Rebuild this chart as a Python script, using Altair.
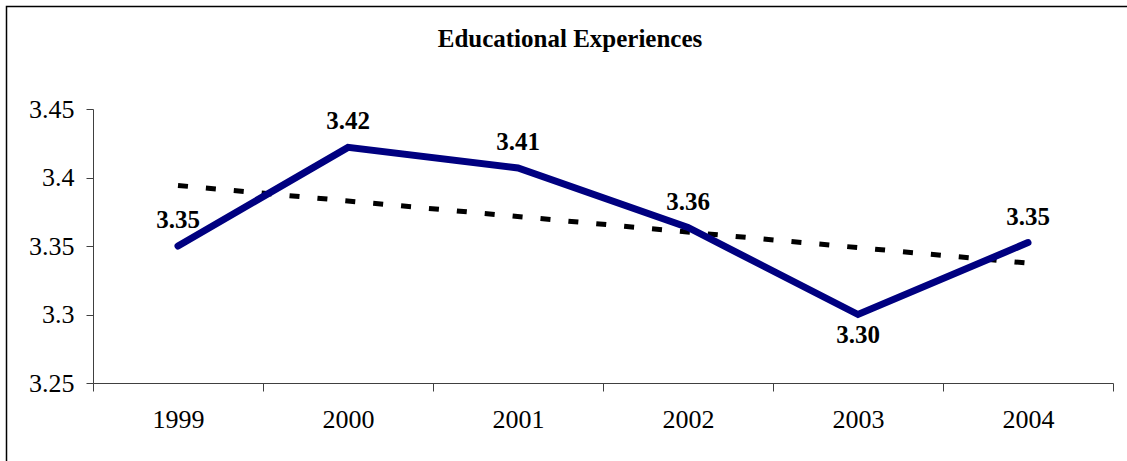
import altair as alt
import pandas as pd

years = [1999, 2000, 2001, 2002, 2003, 2004]
scores = [3.350, 3.422, 3.407, 3.3635, 3.300, 3.3525]
title_text = "Educational Experiences"
y_ticks = [3.25, 3.30, 3.35, 3.40, 3.45]
x_edges = [1998.5, 1999.5, 2000.5, 2001.5, 2002.5, 2003.5, 2004.5]

df = pd.DataFrame({"year": years, "score": scores})

FONT = "Liberation Serif"
W, H = 1020, 274

x = alt.X(
    "year:Q",
    scale=alt.Scale(domain=[1998.5, 2004.5], nice=False, zero=False),
    axis=alt.Axis(
        values=x_edges,
        labelExpr="datum.value < 2004 ? format(datum.value + 0.5, 'd') : ''",
        labelOffset=85,
        labelFlush=False,
        labelOverlap=False,
        labelBound=False,
        tickSize=8,
        labelPadding=15,
        grid=False,
        title=None,
    ),
)
y = alt.Y(
    "score:Q",
    scale=alt.Scale(domain=[3.25, 3.45], nice=False, zero=False),
    axis=alt.Axis(
        values=y_ticks,
        labelExpr="format(datum.value, '.2~f')",
        tickSize=7,
        labelPadding=12,
        grid=False,
        title=None,
    ),
)

base = alt.Chart(df)

line = base.mark_line(color="#000080", strokeWidth=7, strokeCap="round", strokeJoin="miter").encode(x=x, y=y)

trend = base.transform_regression("year", "score", method="linear").mark_line(
    color="black", strokeWidth=5, strokeDash=[10, 18], strokeCap="butt"
).encode(x=x, y=y)

labels_above = base.transform_filter("datum.year != 2003").mark_text(
    font=FONT, fontSize=25, fontWeight="bold", baseline="alphabetic", dy=-18, color="black"
).encode(x=x, y=y, text=alt.Text("score:Q", format=".2f"))

labels_below = base.transform_filter("datum.year == 2003").mark_text(
    font=FONT, fontSize=25, fontWeight="bold", baseline="alphabetic", dy=28, color="black"
).encode(x=x, y=y, text=alt.Text("score:Q", format=".2f"))

border = alt.Chart(pd.DataFrame({"k": [0]})).mark_rect(
    fill=None, stroke="black", strokeWidth=1.5
).encode(
    x=alt.value(-86.5), y=alt.value(-102.5), x2=alt.value(1140), y2=alt.value(470)
)

chart = alt.layer(border, trend, line, labels_above, labels_below).properties(
    width=W,
    height=H,
    autosize=alt.AutoSizeParams(type="none"),
    padding={"left": 93, "top": 109, "right": 14, "bottom": 78},
    background="white",
    title=alt.TitleParams(
        title_text, font=FONT, fontSize=25, fontWeight="bold", anchor="middle",
        baseline="alphabetic", offset=0, dy=66, dx=-33, color="black",
    ),
).configure_view(stroke=None).configure_axis(
    labelFont=FONT, labelFontSize=26, labelColor="black",
    domainColor="#404040", tickColor="#404040", domainWidth=1, tickWidth=1,
)

chart.save("out.html", embed_options={"renderer": "svg", "actions": False})
